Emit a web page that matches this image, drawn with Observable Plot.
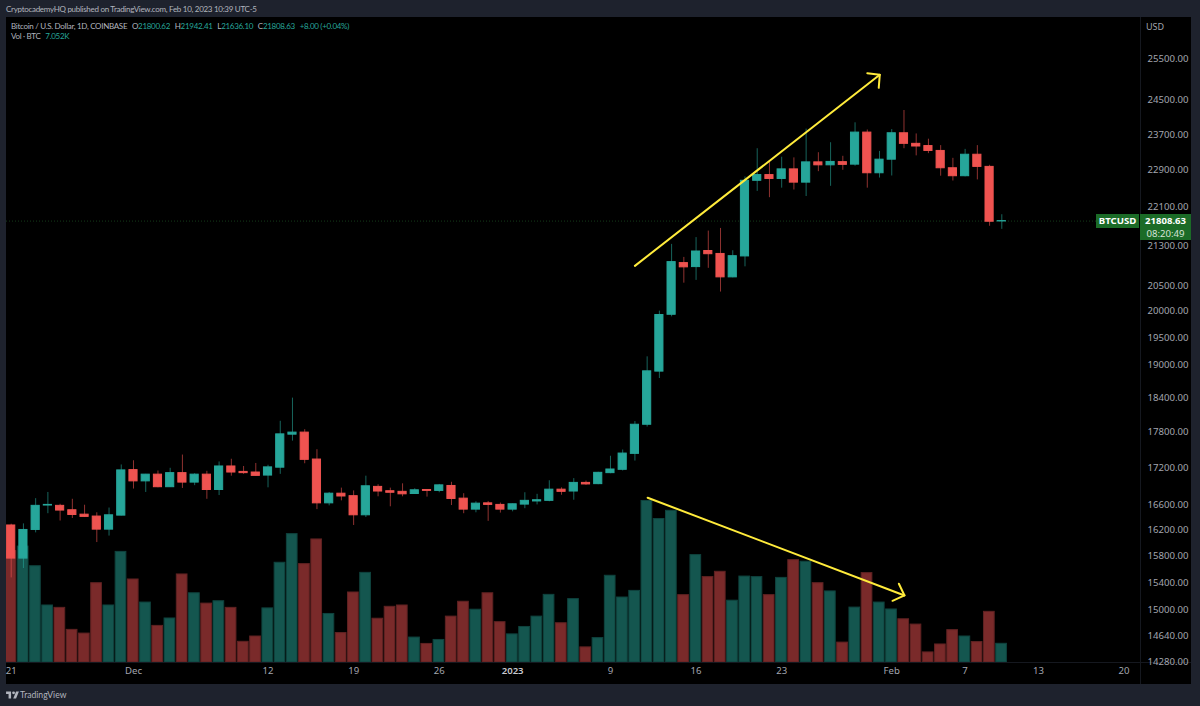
<!DOCTYPE html>
<html>
<head>
<meta charset="utf-8">
<script src="https://cdn.jsdelivr.net/npm/d3@7"></script>
<script src="https://cdn.jsdelivr.net/npm/@observablehq/plot@0.6"></script>
<style>
  html, body { margin: 0; padding: 0; width: 1200px; height: 706px; overflow: hidden; background: #1e222d; }
  body, svg { font-family: "Noto Sans", sans-serif; }
  #header { height: 17px; line-height: 18px; padding-left: 6px; font-family: Lato, sans-serif; font-size: 8px; letter-spacing: -0.29px; color: #b2b5be; white-space: nowrap; }
  #chart { position: relative; width: 1200px; height: 667px; }
  #pane { position: absolute; left: 6px; top: 0; width: 1185px; height: 667px; background: #000; }
  #chart svg { position: absolute; left: 0; top: 0; display: block; }
  .sep { position: absolute; background: #15181f; }
  #legend { position: absolute; left: 11px; top: 4px; font-family: Lato, sans-serif; font-size: 8px; letter-spacing: -0.3px; line-height: 10px; color: #b2b5be; white-space: nowrap; }
  #legend b { font-weight: normal; color: #26a69a; }
  #legend span { margin-right: 3px; }
  .tag { position: absolute; background: #1b6b27; color: #fff; text-align: center; font-size: 9.6px; line-height: 13px; }
  #usd { position: absolute; left: 1146px; top: 3px; font-size: 9px; color: #a3a6af; }
  #footer { position: relative; height: 22px; color: #b2b5be; font-family: Lato, sans-serif; font-size: 8.6px; line-height: 22px; padding-left: 20px; }
  #footer svg { position: absolute; left: 6px; top: 6px; }
</style>
</head>
<body>
<div id="header">CryptocademyHQ published on TradingView.com, Feb 10, 2023 10:39 UTC-5</div>
<div id="chart">
  <div id="pane"></div>
  <div class="sep" style="left:1140px;top:0;width:1px;height:667px"></div>
  <div class="sep" style="left:6px;top:645px;width:1185px;height:1px"></div>
</div>
<div id="footer">
  <svg width="13" height="10" viewBox="0 0 36 28" fill="#b2b5be"><path d="M14 24H7V11H0V4h14z"/><path d="M28 24h-8l8-20h8z"/><circle cx="21" cy="8" r="4"/></svg>
  TradingView
</div>
<script>
// one candle per day, 2022-11-21 to 2023-02-10
const dates = d3.utcDay.range(new Date(Date.UTC(2022, 10, 21)), new Date(Date.UTC(2023, 1, 11)));

const opens = [
  16275, 15765, 16205, 16590, 16585, 16515, 16445, 16415, 16210, 16430,
  17165, 16980, 17090, 16885, 17115, 16960, 17090, 16840, 17225, 17135, 17125, 17075, 17205, 17760, 17795, 17340, 16625, 16780, 16740, 16435, 16890, 16820, 16810, 16775, 16840, 16825, 16905, 16700, 16525, 16625, 16600,
  16525, 16605, 16655, 16665, 16845, 16815, 16955, 16935, 17115, 17170, 17435, 17930, 18870, 19930, 20945, 20865, 21190, 21130, 20660, 21080, 22670, 22795, 22710, 22920, 22630, 23075, 23010, 23080, 23025, 23745, 22835,
  23135, 23730, 23490, 23440, 23330, 22945, 22770, 23245, 22975, 21800.62
];
const highs = [
  16295, 16300, 16700, 16800, 16610, 16690, 16595, 16475, 16550, 17250,
  17320, 17095, 17150, 17195, 17415, 17105, 17145, 17300, 17345, 17225, 17275, 17245, 17990, 18395, 17845, 17505, 16800, 16870, 16825, 17065, 16925, 16870, 16940, 16860, 16845, 16930, 16965, 16780, 16650, 16655, 16630,
  16615, 16795, 16770, 16990, 16875, 17025, 16985, 17130, 17395, 17500, 17985, 19140, 20000, 21325, 21060, 21465, 21600, 21655, 21195, 22755, 23380, 23085, 23190, 23175, 23825, 23290, 23515, 23210, 23970, 23805, 23320,
  23815, 24255, 23715, 23595, 23450, 23165, 23365, 23450, 23010, 21942.41
];
const lows = [
  15475, 15615, 16160, 16460, 16345, 16385, 16400, 16010, 16110, 16425,
  16855, 16800, 16875, 16880, 16865, 16910, 16690, 16750, 17065, 17095, 17065, 16875, 17095, 17650, 17270, 16525, 16585, 16665, 16275, 16400, 16730, 16570, 16730, 16770, 16725, 16795, 16590, 16460, 16475, 16340, 16470,
  16490, 16540, 16600, 16650, 16755, 16675, 16915, 16925, 17105, 17150, 17315, 17890, 18745, 19890, 20545, 20600, 20840, 20370, 20650, 20870, 22440, 22305, 22510, 22470, 22330, 22870, 22550, 22900, 22990, 22510, 22730,
  22775, 23380, 23220, 23270, 22770, 22665, 22755, 22690, 21700, 21636.10
];
const closes = [
  15765, 16205, 16585, 16600, 16510, 16440, 16410, 16210, 16435, 17160,
  16980, 17090, 16885, 17115, 16960, 17090, 16840, 17225, 17125, 17115, 17070, 17210, 17765, 17795, 17335, 16625, 16780, 16735, 16435, 16900, 16815, 16795, 16770, 16835, 16825, 16915, 16695, 16525, 16620, 16600, 16525,
  16610, 16665, 16675, 16845, 16810, 16955, 16930, 17120, 17175, 17440, 17930, 18875, 19925, 20965, 20860, 21180, 21125, 20660, 21085, 22670, 22795, 22710, 22920, 22630, 23075, 23010, 23085, 23020, 23745, 22835, 23135,
  23730, 23490, 23430, 23330, 22945, 22770, 23245, 22975, 21795, 21808.63
];
// volume in thousands of BTC
const volumes = [
  42, 43.7, 36.3, 21.5, 20.6, 12.3, 10.9, 29.9, 21.5, 41.7,
  31.3, 22.6, 13.8, 16.6, 33.2, 26.1, 22.2, 23.1, 20.6, 7.8, 9.8, 20.4, 37.6, 48.4, 37.1, 46.4, 18.3, 11.1, 26.4, 33.8, 16.5, 21, 21.5, 9.4, 7, 8.5, 17.3, 22.9, 19.9, 26.1, 15.2,
  10.6, 13.4, 17.3, 25.5, 14.8, 23.9, 5.7, 9.2, 32.7, 24.5, 27, 60.9, 54.1, 57.2, 25.4, 40.5, 32.2, 34.2, 23.3, 32.4, 32.2, 25.4, 31.9, 38.6, 38, 29.9, 26.8, 7.5, 20.7, 33.7, 22.6,
  20, 16.3, 14.3, 3.8, 6.8, 12.2, 9.8, 7.7, 19.1, 7.052
];

const priceTicks = [25500, 24500, 23700, 22900, 22100, 21300, 20500, 20000, 19500, 19000, 18400, 17800, 17200, 16600, 16200, 15800, 15400, 15000, 14640, 14280];
const monthTickDates = ["2022-11-21", "2022-12-01", "2022-12-12", "2022-12-19", "2022-12-26", "2023-01-09", "2023-01-16", "2023-01-23", "2023-02-01", "2023-02-07", "2023-02-13", "2023-02-20"];
const monthTickLabels = ["21", "Dec", "12", "19", "26", "9", "16", "23", "Feb", "7", "13", "20"];
const yearTickDates = ["2023-01-01"];
const yearTickLabels = ["2023"];

// hand drawn yellow arrows
const upArrowDates = ["2023-01-11T00:00Z", "2023-01-31T00:30Z"];
const upArrowPrices = [20890, 25103];
const upHeadDates = ["2023-01-30T00:00Z", "2023-01-31T00:30Z", "2023-01-30T22:30Z"];
const upHeadPrices = [25142, 25103, 24790];
const downArrowDates = ["2023-01-12T01:00Z", "2023-02-02T01:00Z"];
const downArrowPrices = [16715, 15216];
const downHeadDates = ["2023-02-01T14:00Z", "2023-02-02T01:00Z", "2023-02-01T01:30Z"];
const downHeadPrices = [15388, 15216, 15138];

const green = "#26a69a", red = "#ef5350";
const volGreen = "#14564f", volRed = "#7a2a2a";
const volStroke = {[volGreen]: "#0f433e", [volRed]: "#5f2222"};
const textColor = "#a3a6af";

const candles = dates.map((date, i) => ({
  date, open: opens[i], high: highs[i], low: lows[i], close: closes[i], volume: volumes[i],
  up: closes[i] >= opens[i]
}));
const last = candles[candles.length - 1];

const toPoints = (ds, ps) => ds.map((d, i) => ({date: new Date(d), price: ps[i]}));
const arrowLine = (ds, ps) => Plot.line(toPoints(ds, ps), {x: "date", y: "price", stroke: "#ffeb3b", strokeWidth: 2, strokeLinecap: "round", strokeLinejoin: "round"});

const W = 1200, H = 667;
const xDomain = [new Date("2022-11-20T14:47Z"), new Date("2023-02-21T08:10Z")];
const frame = {width: W, height: H, marginLeft: 6, marginRight: 60, marginTop: 0, marginBottom: 22, style: {background: "transparent", fontSize: "9.6px"}};

// volume sits in its own svg underneath, it has its own linear scale
const volumeChart = Plot.plot({
  ...frame,
  x: {type: "utc", domain: xDomain, axis: null},
  y: {domain: [0, 243.2], axis: null},
  marks: [
    Plot.rectY(candles, {
      x1: d => d3.utcHour.offset(d.date, -10.5),
      x2: d => d3.utcHour.offset(d.date, 10.5),
      y1: 0,
      y2: "volume",
      fill: d => d.up ? volGreen : volRed,
      stroke: d => volStroke[d.up ? volGreen : volRed],
      clip: true
    })
  ]
});

const priceChart = Plot.plot({
  ...frame,
  x: {type: "utc", domain: xDomain},
  y: {type: "log", domain: [14266, 26524]},
  marks: [
    Plot.ruleY([last.close], {stroke: "#143a19", strokeDasharray: "1,2"}),
    Plot.ruleX(candles, {x: "date", y1: "low", y2: "high", stroke: d => d.up ? green : red, strokeOpacity: 0.6}),
    Plot.rectY(candles, {
      x1: d => d3.utcHour.offset(d.date, -8),
      x2: d => d3.utcHour.offset(d.date, 8),
      y1: "open",
      y2: "close",
      fill: d => d.up ? green : red,
      stroke: d => d.up ? green : red,
      clip: true
    }),
    arrowLine(upArrowDates, upArrowPrices),
    arrowLine(upHeadDates, upHeadPrices),
    arrowLine(downArrowDates, downArrowPrices),
    arrowLine(downHeadDates, downHeadPrices),
    Plot.axisY(priceTicks, {
      anchor: "right", tickSize: 0, tickPadding: 7, label: null,
      tickFormat: d => d.toFixed(2), fill: textColor, fontSize: 9.6
    }),
    Plot.axisX(monthTickDates.map(d => new Date(d)), {
      anchor: "bottom", tickSize: 0, tickPadding: 5, label: null,
      tickFormat: d => monthTickLabels[monthTickDates.indexOf(d.toISOString().slice(0, 10))],
      fill: textColor, fontSize: 9.6
    }),
    Plot.axisX(yearTickDates.map(d => new Date(d)), {
      anchor: "bottom", tickSize: 0, tickPadding: 5, label: null,
      tickFormat: d => yearTickLabels[yearTickDates.indexOf(d.toISOString().slice(0, 10))],
      fill: "#c8cad0", fontSize: 9.6, fontWeight: 600
    })
  ]
});

const chart = document.getElementById("chart");
chart.appendChild(volumeChart);
chart.appendChild(priceChart);

// overlays: legend, currency and the last price tags
const legend = document.createElement("div");
legend.id = "legend";
legend.innerHTML = `<div><span>Bitcoin / U.S. Dollar, 1D, COINBASE</span> <span>O<b>21800.62</b></span> <span>H<b>21942.41</b></span> <span>L<b>21636.10</b></span> <span>C<b>21808.63</b></span> <span><b>+8.00 (+0.04%)</b></span></div><div><span>Vol · BTC</span> <b>7.052K</b></div>`;
chart.appendChild(legend);

const usd = document.createElement("div");
usd.id = "usd";
usd.textContent = "USD";
chart.appendChild(usd);

const tagY = priceChart.scale("y").apply(last.close);
function addTag(html, left, width, height) {
  const tag = document.createElement("div");
  tag.className = "tag";
  tag.style.left = left + "px";
  tag.style.width = width + "px";
  tag.style.height = height + "px";
  tag.style.top = (tagY - 7) + "px";
  tag.innerHTML = html;
  chart.appendChild(tag);
}
addTag("<b>BTCUSD</b>", 1096, 43, 14);
addTag(`<b>${last.close.toFixed(2)}</b><br><span style="color:#d5e3d7">08:20:49</span>`, 1140, 51, 26);
</script>
</body>
</html>
